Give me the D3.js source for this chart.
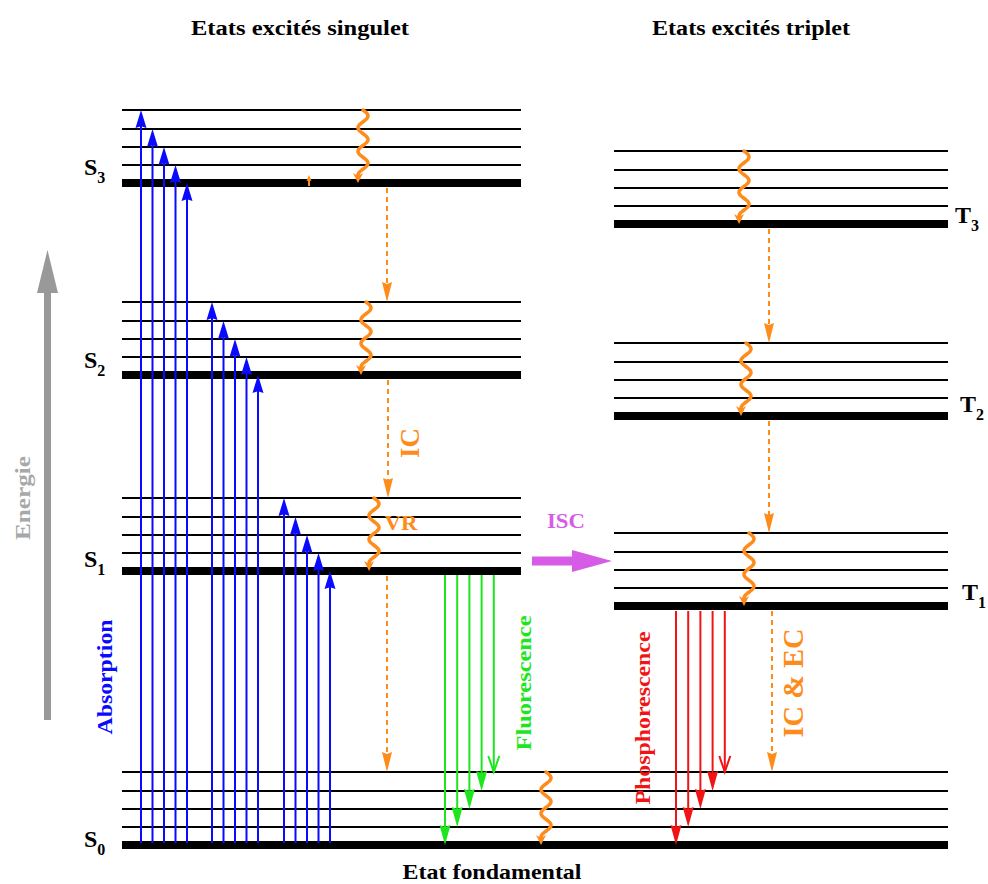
<!DOCTYPE html>
<html><head><meta charset="utf-8">
<script src="https://cdn.jsdelivr.net/npm/d3@7"></script>
<style>body{margin:0;background:#fff} svg{display:block}</style>
</head><body><svg id="c" width="988" height="884"></svg>
<script>
// ---------- data ----------
const singletStates = ["S0", "S1", "S2", "S3"];
const singletEnergy = [0, 274, 470, 662];
const tripletStates = ["T1", "T2", "T3"];
const tripletEnergy = [239, 429, 621];
const vibLevels = [0, 18, 36, 54, 73];
const absorptionTargets = ["S3", "S2", "S1"];
const fluorescenceTargets = [0, 1, 2, 3, 4];
const phosphorescenceTargets = [0, 1, 2, 3, 4];
const icPairs = [["S3", "S2"], ["S2", "S1"], ["S1", "S0"], ["T3", "T2"], ["T2", "T1"], ["T1", "S0"]];
const vrStates = ["S3", "S2", "S1", "S0", "T3", "T2", "T1"];
const columnTitles = ["Etats excités singulet", "Etats excités triplet"];
const groundTitle = "Etat fondamental";
const processNames = ["Absorption", "Fluorescence", "Phosphorescence", "IC", "VR", "ISC", "IC & EC"];
const axisLabel = "Energie";

// ---------- setup ----------
const W = 988, H = 884;
const svg = d3.select("#c");
const y = d3.scaleLinear().domain([0, 736]).range([845, 109]);
const x = d3.scaleLinear().domain([0, W]).range([0, W]);
const energyOf = {};
singletStates.forEach((s, i) => energyOf[s] = singletEnergy[i]);
tripletStates.forEach((s, i) => energyOf[s] = tripletEnergy[i]);

const FONT = "'Liberation Serif','Times New Roman',serif";
const C = {
  blue: "#0a0aff", green: "#1ee61e", red: "#f21414", orange: "#ff8c1a",
  violet: "#d65ce8", gray: "#999999", grayText: "#a8a8a8"
};

// ---------- energy levels ----------
function levelSpan(s) {
  if (s === "S0") return [122, 948];
  if (s[0] === "S") return [122, 521];
  return [614, 948];
}
const gLevels = svg.append("g");
[...singletStates, ...tripletStates].forEach(s => {
  const [x0, x1] = levelSpan(s);
  vibLevels.forEach((v, i) => {
    gLevels.append("line")
      .attr("x1", x(x0)).attr("x2", x(x1))
      .attr("y1", y(energyOf[s] + v)).attr("y2", y(energyOf[s] + v))
      .attr("stroke", "#000").attr("stroke-width", i === 0 ? 8 : 2.2);
  });
});

// ---------- arrows ----------
function head(g, xp, tip, dir, color, w, h, open) {
  const b = tip - dir * h;
  if (open) {
    g.append("polyline")
      .attr("points", `${xp - w / 2},${b} ${xp},${tip} ${xp + w / 2},${b}`)
      .attr("fill", "none").attr("stroke", color).attr("stroke-width", 2);
  } else {
    g.append("polygon")
      .attr("points", `${xp},${tip} ${xp - w / 2},${b} ${xp},${tip - dir * h * 0.9} ${xp + w / 2},${b}`)
      .attr("fill", color);
  }
}
function vArrow(g, xp, yFrom, yTip, color, opt = {}) {
  const dir = yTip < yFrom ? -1 : 1;
  const w = opt.w || 10, h = opt.h || 18;
  const end = opt.open ? yTip : yTip - dir * h * 0.7;
  g.append("line").attr("x1", xp).attr("x2", xp).attr("y1", yFrom).attr("y2", end)
    .attr("stroke", color).attr("stroke-width", opt.sw || 2)
    .attr("stroke-dasharray", opt.dash || null);
  head(g, xp, yTip, dir, color, w, h, opt.open);
}

// Absorption (blue)
const gAbs = svg.append("g");
const absStartX = [141, 212, 284];
absorptionTargets.forEach((s, gi) => {
  [4, 3, 2, 1, 0].forEach((v, i) => {
    const xp = x(absStartX[gi] + i * 11.5);
    vArrow(gAbs, xp, y(energyOf.S0) - 2, y(energyOf[s] + vibLevels[v]), C.blue, { w: 11, h: 18 });
  });
});

// Fluorescence (green)
const gFl = svg.append("g");
fluorescenceTargets.forEach((v, i) => {
  const xp = x(445 + i * 12.2);
  vArrow(gFl, xp, y(energyOf.S1) + 4, y(energyOf.S0 + vibLevels[v]), C.green,
    { w: 11, h: i === 4 ? 16 : 20, open: i === 4 });
});

// Phosphorescence (red)
const gPh = svg.append("g");
phosphorescenceTargets.forEach((v, i) => {
  const xp = x(676 + i * 12.2);
  vArrow(gPh, xp, y(energyOf.T1) + 5, y(energyOf.S0 + vibLevels[v]), C.red,
    { w: 11, h: i === 4 ? 16 : 20, open: i === 4 });
});

// Internal conversion (dashed orange)
const gIC = svg.append("g");
const icX = [387, 388, 387, 769, 769, 772];
icPairs.forEach(([a, b], i) => {
  vArrow(gIC, x(icX[i]), y(energyOf[a]) + 5, y(energyOf[b] + vibLevels[4]), C.orange,
    { w: 10, h: 20, dash: "5,4", sw: 2 });
});

// Vibrational relaxation (wavy orange)
const gVR = svg.append("g");
const vrTipX = [358, 361, 369, 541, 739, 741, 744];
vrStates.forEach((s, i) => {
  const yTop = y(energyOf[s] + vibLevels[4]);
  const yBot = y(energyOf[s]);
  const A = 5, cx = vrTipX[i] + A;
  const L = (yBot - yTop) - 8;
  const P = L / 2.75;
  const pts = d3.range(0, L + 0.5, 0.5).map(t => [cx + A * Math.sin(2 * Math.PI * t / P), yTop + t]);
  gVR.append("path").attr("d", d3.line()(pts)).attr("fill", "none")
    .attr("stroke", C.orange).attr("stroke-width", 3.5).attr("stroke-linecap", "round");
  const tx = pts[pts.length - 1][0];
  gVR.append("polygon")
    .attr("points", `${tx},${yBot} ${tx - 5},${yBot - 10} ${tx},${yBot - 7} ${tx + 5},${yBot - 10}`)
    .attr("fill", C.orange);
});
// small orange mark on S3
vArrow(gVR, x(309), y(energyOf.S3) + 3, y(energyOf.S3) - 8, C.orange, { w: 5, h: 6, sw: 2 });

// ISC arrow
const gISC = svg.append("g");
const iy = y(energyOf.S1 + 10);
gISC.append("polygon")
  .attr("points", `${x(532)},${iy - 4.5} ${x(572)},${iy - 4.5} ${x(572)},${iy - 11} ${x(612)},${iy} ${x(572)},${iy + 11} ${x(572)},${iy + 4.5} ${x(532)},${iy + 4.5}`)
  .attr("fill", C.violet);

// Energy axis arrow
const gE = svg.append("g");
gE.append("rect").attr("x", 44).attr("y", 290).attr("width", 7).attr("height", 430).attr("fill", C.gray);
gE.append("polygon").attr("points", `47.5,250 37,293 58,293`).attr("fill", C.gray);

// ---------- text ----------
function txt(str, tx, ty, size, color, opt = {}) {
  const t = svg.append("text")
    .attr("font-family", FONT).attr("font-weight", "bold")
    .attr("font-size", size).attr("fill", color)
    .attr("text-anchor", opt.anchor || "middle")
    .text(str);
  if (opt.rotate) {
    t.attr("transform", `translate(${tx},${ty}) rotate(-90)`);
  } else {
    t.attr("x", tx).attr("y", ty);
  }
  if (opt.len) t.attr("textLength", opt.len).attr("lengthAdjust", "spacingAndGlyphs");
  return t;
}
txt(columnTitles[0], 300, 35, 20, "#000", { len: 218 });
txt(columnTitles[1], 751, 35, 20, "#000", { len: 198 });
txt(groundTitle, 492, 879, 22, "#000", { len: 179 });

function stateLabel(s, lx, ly) {
  const t = svg.append("text").attr("x", lx).attr("y", ly)
    .attr("font-family", FONT).attr("font-weight", "bold").attr("font-size", 24).attr("fill", "#000");
  t.append("tspan").text(s[0]);
  t.append("tspan").attr("font-size", 16).attr("dy", 8).text(s.slice(1));
}
const sOff = [2, -4, -7, -8];
singletStates.forEach((s, i) => stateLabel(s, 84, y(energyOf[s]) + sOff[i]));
const tX = [962, 960, 955], tOff = [-6, -4, -1];
tripletStates.forEach((s, i) => stateLabel(s, tX[i], y(energyOf[s]) + tOff[i]));

txt(processNames[0], 112, 677, 22, C.blue, { rotate: true, len: 115 });
txt(processNames[1], 531, 683, 22, C.green, { rotate: true, len: 135 });
txt(processNames[2], 650, 718, 22, C.red, { rotate: true, len: 173 });
txt(processNames[3], 419, 443, 28, C.orange, { rotate: true, len: 30 });
txt(processNames[4], 401, 530, 22, C.orange, { len: 33 });
txt(processNames[5], 566, 528, 22, C.violet, { len: 38 });
txt(processNames[6], 803, 683, 29, C.orange, { rotate: true, len: 109 });
txt(axisLabel, 30, 498, 22, C.grayText, { rotate: true, len: 84 });
</script></body></html>
